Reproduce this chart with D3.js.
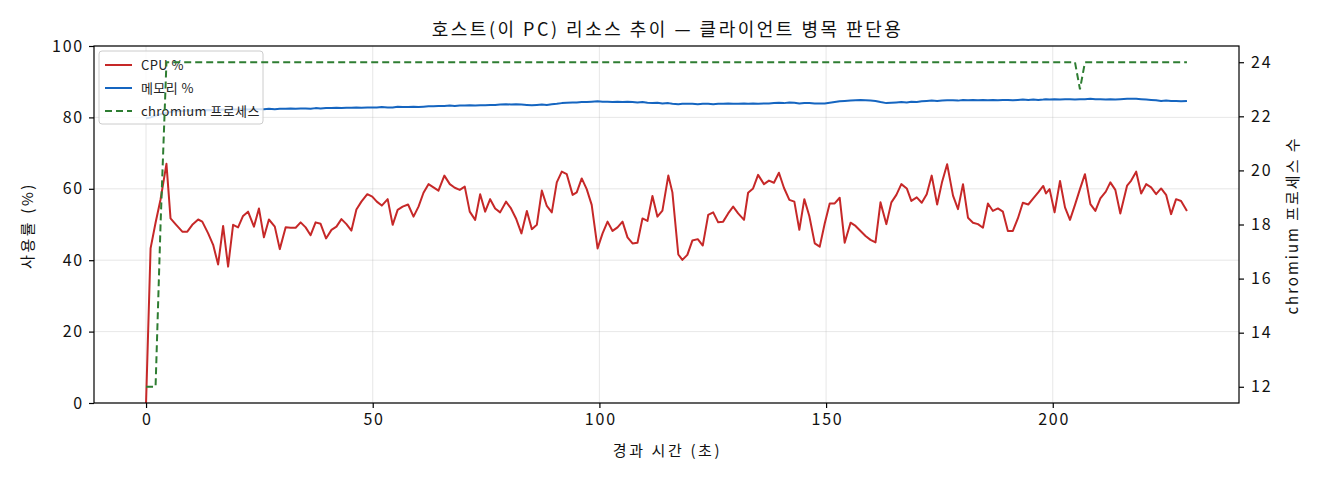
<!DOCTYPE html>
<html>
<head>
<meta charset="utf-8">
<script src="https://cdn.jsdelivr.net/npm/d3@7"></script>
<style>
  body { margin: 0; background: #fff; }
  text { font-family: "Noto Sans CJK KR", "Noto Sans", sans-serif; }
</style>
</head>
<body>
<div id="chart"></div>
<script>
// elapsed seconds of each sample
var elapsed = [
  0, 1.0, 2.1, 3.2, 4.5, 5.4, 6.5, 8.0, 9.1, 10.2,
  11.5, 12.4, 13.7, 14.8, 15.9, 17.0, 18.1, 19.2, 20.3, 21.4,
  22.5, 23.8, 24.9, 26.0, 27.1, 28.4, 29.5, 30.8, 31.9, 33.0,
  34.1, 35.2, 36.3, 37.4, 38.5, 39.7, 40.9, 42.0, 43.1, 44.2,
  45.3, 46.4, 47.5, 48.8, 49.9, 50.9, 52.0, 53.3, 54.4, 55.5,
  56.6, 57.8, 59.0, 60.1, 61.2, 62.3, 63.4, 64.5, 65.8, 67.0,
  68.1, 69.2, 70.3, 71.4, 72.6, 73.7, 74.8, 75.9, 77.0, 78.1,
  79.4, 80.5, 81.6, 82.8, 84.0, 85.1, 86.2, 87.3, 88.4, 89.5,
  90.6, 91.7, 92.8, 94.1, 95.0, 96.1, 97.2, 98.3, 99.6, 100.7,
  101.8, 102.9, 104.0, 105.1, 106.2, 107.3, 108.4, 109.5, 110.6, 111.7,
  112.8, 113.9, 115.2, 116.1, 117.4, 118.3, 119.4, 120.5, 121.7, 122.8,
  124.0, 125.1, 126.2, 127.3, 128.4, 129.5, 130.6, 131.9, 132.8, 133.9,
  135.0, 136.3, 137.4, 138.5, 139.6, 140.7, 141.9, 143.0, 144.1, 145.2,
  146.3, 147.5, 148.6, 149.7, 150.8, 151.9, 153.0, 154.1, 155.4, 156.5,
  157.6, 158.7, 159.8, 160.9, 162.0, 163.3, 164.4, 165.5, 166.6, 167.8,
  168.8, 170.0, 171.1, 172.2, 173.3, 174.5, 175.6, 176.7, 178.0, 179.1,
  180.2, 181.3, 182.4, 183.5, 184.6, 185.7, 186.8, 187.9, 189.0, 190.1,
  191.2, 192.3, 193.4, 194.6, 195.7, 196.8, 197.9, 198.5, 199.3, 200.4,
  201.6, 202.7, 203.8, 204.9, 206.0, 207.1, 208.3, 209.4, 210.5, 211.7,
  212.7, 213.8, 214.9, 216.4, 217.3, 218.4, 219.5, 220.6, 221.7, 222.8,
  223.9, 225.0, 226.1, 227.2, 228.3, 229.6
];

var cpuPct = [
  0, 43.3, 50.5, 57.0, 67.0, 51.7, 50.1, 48.0, 48.0, 49.9,
  51.4, 50.8, 47.5, 44.3, 38.8, 49.6, 38.2, 49.9, 49.2, 52.4,
  53.6, 49.4, 54.5, 46.4, 51.4, 49.4, 43.1, 49.2, 49.1, 49.1,
  50.6, 49.2, 47.0, 50.6, 50.2, 46.1, 48.5, 49.4, 51.5, 50.1,
  48.3, 54.2, 56.4, 58.5, 57.8, 56.4, 55.3, 57.1, 49.9, 54.1,
  55.0, 55.6, 52.2, 55.0, 58.9, 61.3, 60.4, 59.5, 63.7, 61.3,
  60.3, 59.7, 60.6, 53.6, 51.3, 58.5, 53.6, 57.1, 54.5, 53.4,
  56.4, 54.5, 51.7, 47.5, 53.8, 48.7, 49.9, 59.5, 55.2, 53.4,
  61.8, 64.8, 64.1, 58.3, 59.0, 62.9, 59.9, 55.5, 43.3, 47.5,
  50.8, 48.2, 49.2, 50.8, 46.4, 44.7, 44.9, 51.7, 51.0, 58.0,
  52.2, 53.9, 63.7, 59.0, 41.6, 40.1, 41.5, 45.5, 45.9, 44.1,
  52.7, 53.4, 50.6, 50.8, 53.1, 55.0, 53.1, 51.3, 58.9, 60.1,
  63.9, 61.3, 62.3, 61.7, 64.5, 60.3, 56.9, 56.4, 48.5, 57.1,
  52.4, 44.7, 43.8, 50.3, 55.9, 55.9, 57.5, 44.9, 50.5, 49.6,
  48.2, 46.8, 45.7, 45.0, 56.2, 50.1, 56.2, 58.3, 61.3, 60.1,
  56.6, 57.6, 56.1, 58.5, 63.7, 55.6, 62.0, 66.9, 58.1, 54.3,
  61.3, 51.9, 50.5, 50.1, 49.1, 55.9, 53.8, 54.5, 53.6, 48.2,
  48.2, 51.7, 56.1, 55.6, 57.3, 59.0, 60.8, 58.7, 59.9, 53.4,
  62.2, 54.8, 51.3, 55.5, 59.9, 64.1, 55.7, 53.8, 57.3, 59.2,
  61.8, 59.7, 53.1, 60.9, 62.3, 64.8, 58.7, 61.3, 60.4, 58.5,
  60.1, 58.3, 52.9, 57.1, 56.6, 53.8
];

var memPct = [
  79.7, 80.0, 80.5, 80.9, 81.3, 81.5, 81.7, 81.8, 81.9, 81.9,
  82.0, 82.0, 82.1, 82.0, 82.1, 82.2, 82.1, 82.2, 82.2, 82.3,
  82.2, 82.3, 82.3, 82.3, 82.4, 82.3, 82.4, 82.4, 82.5, 82.4,
  82.5, 82.5, 82.4, 82.6, 82.5, 82.6, 82.6, 82.7, 82.6, 82.7,
  82.7, 82.8, 82.7, 82.8, 82.8, 82.8, 82.9, 82.8, 82.8, 83.0,
  82.9, 82.9, 83.0, 82.9, 83.0, 83.1, 83.1, 83.2, 83.2, 83.3,
  83.2, 83.3, 83.3, 83.4, 83.3, 83.4, 83.4, 83.5, 83.5, 83.6,
  83.7, 83.6, 83.7, 83.6, 83.5, 83.4, 83.5, 83.6, 83.5, 83.7,
  83.8, 84.0, 84.1, 84.2, 84.2, 84.3, 84.3, 84.4, 84.5, 84.4,
  84.4, 84.3, 84.4, 84.3, 84.4, 84.3, 84.2, 84.3, 84.1, 84.0,
  84.1, 83.9, 84.0, 83.8, 83.7, 83.8, 83.8, 83.8, 83.7, 83.8,
  83.8, 83.7, 83.8, 83.8, 83.9, 83.8, 83.8, 83.9, 83.8, 83.9,
  83.8, 83.9, 83.9, 84.0, 84.1, 84.0, 84.2, 84.1, 83.9, 84.0,
  84.0, 83.9, 83.9, 83.9, 84.1, 84.3, 84.5, 84.6, 84.7, 84.8,
  84.9, 84.8, 84.7, 84.6, 84.3, 84.0, 84.1, 84.2, 84.3, 84.2,
  84.4, 84.3, 84.5, 84.6, 84.7, 84.6, 84.7, 84.8, 84.8, 84.7,
  84.9, 84.8, 84.9, 84.8, 84.9, 84.8, 84.9, 84.8, 84.9, 84.9,
  84.8, 84.9, 85.0, 84.9, 85.0, 84.9, 85.0, 85.1, 85.0, 85.1,
  85.0, 85.1, 85.1, 85.0, 85.1, 85.1, 85.2, 85.1, 85.1, 85.0,
  85.1, 85.0, 85.1, 85.2, 85.2, 85.2, 85.1, 85.0, 84.9, 84.8,
  84.6, 84.7, 84.6, 84.6, 84.5, 84.6
];

var chromiumCount = [
  12, 12, 12, 18, 24, 24, 24, 24, 24, 24,
  24, 24, 24, 24, 24, 24, 24, 24, 24, 24,
  24, 24, 24, 24, 24, 24, 24, 24, 24, 24,
  24, 24, 24, 24, 24, 24, 24, 24, 24, 24,
  24, 24, 24, 24, 24, 24, 24, 24, 24, 24,
  24, 24, 24, 24, 24, 24, 24, 24, 24, 24,
  24, 24, 24, 24, 24, 24, 24, 24, 24, 24,
  24, 24, 24, 24, 24, 24, 24, 24, 24, 24,
  24, 24, 24, 24, 24, 24, 24, 24, 24, 24,
  24, 24, 24, 24, 24, 24, 24, 24, 24, 24,
  24, 24, 24, 24, 24, 24, 24, 24, 24, 24,
  24, 24, 24, 24, 24, 24, 24, 24, 24, 24,
  24, 24, 24, 24, 24, 24, 24, 24, 24, 24,
  24, 24, 24, 24, 24, 24, 24, 24, 24, 24,
  24, 24, 24, 24, 24, 24, 24, 24, 24, 24,
  24, 24, 24, 24, 24, 24, 24, 24, 24, 24,
  24, 24, 24, 24, 24, 24, 24, 24, 24, 24,
  24, 24, 24, 24, 24, 24, 24, 24, 24, 24,
  24, 24, 24, 24, 23, 24, 24, 24, 24, 24,
  24, 24, 24, 24, 24, 24, 24, 24, 24, 24,
  24, 24, 24, 24, 24, 24
];

var xTicks = [0, 50, 100, 150, 200];
var yTicks = [0, 20, 40, 60, 80, 100];
var y2Ticks = [12, 14, 16, 18, 20, 22, 24];

var legendItems = [
  { label: "CPU %", color: "#c62828", dash: null },
  { label: "메모리 %", color: "#1565c0", dash: null },
  { label: "chromium 프로세스", color: "#2e7d32", dash: "7,4" }
];

var width = 1320, height = 480;
var plotLeft = 94, plotRight = 1239, plotTop = 46, plotBottom = 403;

var svg = d3.select("#chart").append("svg")
            .attr("width", width)
            .attr("height", height);

// matplotlib-like 5% margins
var xExt = d3.extent(elapsed);
var xPad = (xExt[1] - xExt[0]) * 0.05;
var x = d3.scaleLinear()
          .domain([xExt[0] - xPad, xExt[1] + xPad])
          .range([plotLeft, plotRight]);

var y = d3.scaleLinear()
          .domain([0, 100])
          .range([plotBottom, plotTop]);

var cExt = d3.extent(chromiumCount);
var cPad = (cExt[1] - cExt[0]) * 0.05;
var y2 = d3.scaleLinear()
           .domain([cExt[0] - cPad, cExt[1] + cPad])
           .range([plotBottom, plotTop]);

// grid
svg.append("g")
   .selectAll("line")
   .data(xTicks)
   .enter()
   .append("line")
   .attr("x1", function (d) { return x(d); })
   .attr("x2", function (d) { return x(d); })
   .attr("y1", plotTop)
   .attr("y2", plotBottom)
   .style("stroke", "#b0b0b0")
   .style("stroke-opacity", 0.3)
   .style("stroke-width", 1);

svg.append("g")
   .selectAll("line")
   .data(yTicks)
   .enter()
   .append("line")
   .attr("x1", plotLeft)
   .attr("x2", plotRight)
   .attr("y1", function (d) { return y(d); })
   .attr("y2", function (d) { return y(d); })
   .style("stroke", "#b0b0b0")
   .style("stroke-opacity", 0.3)
   .style("stroke-width", 1);

var pctLine = d3.line()
                .x(function (d, i) { return x(elapsed[i]); })
                .y(function (d) { return y(d); });

var chromLine = d3.line()
                  .x(function (d, i) { return x(elapsed[i]); })
                  .y(function (d) { return y2(d); });

svg.append("path")
   .datum(cpuPct)
   .attr("d", pctLine)
   .style("fill", "none")
   .style("stroke", legendItems[0].color)
   .style("stroke-width", 2)
   .style("stroke-linejoin", "round");

svg.append("path")
   .datum(memPct)
   .attr("d", pctLine)
   .style("fill", "none")
   .style("stroke", legendItems[1].color)
   .style("stroke-width", 2)
   .style("stroke-linejoin", "round");

// legend (belongs to left axes, so it sits under the chromium line)
var legend = svg.append("g")
                .attr("transform", "translate(99,51)");

legend.append("rect")
      .attr("width", 164)
      .attr("height", 73)
      .attr("rx", 3)
      .style("fill", "#fff")
      .style("fill-opacity", 0.8)
      .style("stroke", "#cccccc")
      .style("stroke-width", 1);

var rows = legend.selectAll("g.item")
                 .data(legendItems)
                 .enter()
                 .append("g")
                 .attr("class", "item")
                 .attr("transform", function (d, i) { return "translate(0," + (14 + i * 23) + ")"; });

rows.append("line")
    .attr("x1", 6)
    .attr("x2", 33)
    .attr("y1", 0)
    .attr("y2", 0)
    .style("stroke", function (d) { return d.color; })
    .style("stroke-width", 2)
    .style("stroke-dasharray", function (d) { return d.dash; });

rows.append("text")
    .attr("x", 42)
    .attr("y", 4.5)
    .style("font-size", "13px")
    .style("letter-spacing", "0.4px")
    .style("fill", "#222")
    .text(function (d) { return d.label; });

svg.append("path")
   .datum(chromiumCount)
   .attr("d", chromLine)
   .style("fill", "none")
   .style("stroke", legendItems[2].color)
   .style("stroke-width", 2)
   .style("stroke-dasharray", "7,4");

// axes
var xAxis = svg.append("g")
               .attr("transform", "translate(0," + plotBottom + ")")
               .call(d3.axisBottom(x).tickValues(xTicks).tickSize(5).tickPadding(6));

var yAxis = svg.append("g")
               .attr("transform", "translate(" + plotLeft + ",0)")
               .call(d3.axisLeft(y).tickValues(yTicks).tickSize(5).tickPadding(5));

var y2Axis = svg.append("g")
                .attr("transform", "translate(" + plotRight + ",0)")
                .call(d3.axisRight(y2).tickValues(y2Ticks).tickSize(5).tickPadding(7));

[xAxis, yAxis, y2Axis].forEach(function (g) {
  g.select(".domain").remove();
  g.selectAll("line").style("stroke", "#000").style("stroke-width", 1.2);
  g.selectAll("text").style("font-size", "16px").style("fill", "#111")
   .style("letter-spacing", "1.8px")
   .style("font-family", "\"Noto Sans CJK KR\", sans-serif");
});
// keep x tick labels centred despite the trailing letter spacing
xAxis.selectAll("text").attr("dx", "0.9px");

svg.append("rect")
   .attr("x", plotLeft)
   .attr("y", plotTop)
   .attr("width", plotRight - plotLeft)
   .attr("height", plotBottom - plotTop)
   .style("fill", "none")
   .style("stroke", "#000")
   .style("stroke-width", 1.2);

// labels
svg.append("text")
   .attr("x", (plotLeft + plotRight) / 2 + 1)
   .attr("y", 36)
   .attr("text-anchor", "middle")
   .style("font-size", "18px")
   .style("letter-spacing", "2.5px")
   .style("fill", "#111")
   .text("호스트(이 PC) 리소스 추이 — 클라이언트 병목 판단용");

svg.append("text")
   .attr("x", (plotLeft + plotRight) / 2 + 1)
   .attr("y", 456)
   .attr("text-anchor", "middle")
   .style("font-size", "15px")
   .style("letter-spacing", "2.6px")
   .style("fill", "#111")
   .text("경과 시간 (초)");

svg.append("text")
   .attr("transform", "translate(33," + ((plotTop + plotBottom) / 2 + 1) + ") rotate(-90)")
   .attr("text-anchor", "middle")
   .style("font-size", "15px")
   .style("letter-spacing", "2.6px")
   .style("fill", "#111")
   .text("사용률 (%)");

svg.append("text")
   .attr("transform", "translate(1298," + ((plotTop + plotBottom) / 2 + 1) + ") rotate(-90)")
   .attr("text-anchor", "middle")
   .style("font-size", "15px")
   .style("letter-spacing", "2px")
   .style("fill", "#111")
   .text("chromium 프로세스 수");
</script>
</body>
</html>
